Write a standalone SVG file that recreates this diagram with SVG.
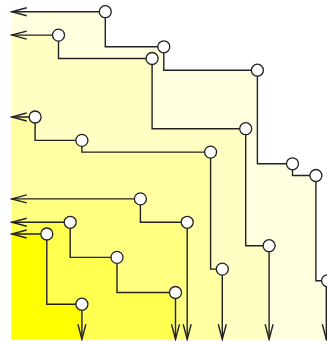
<svg xmlns="http://www.w3.org/2000/svg" width="327" height="344" viewBox="0 0 327 344">
<style>
.edge{fill:none;stroke:#222;stroke-width:1.4;marker-start:url(#arr);marker-end:url(#arr)}
.node{fill:#fff;stroke:#222;stroke-width:1.3}
.r1{fill:#ffffe0}.r2{fill:#ffffc4}.r3{fill:#ffffa2}.r4{fill:#ffff80}.r5{fill:#ffff50}.r6{fill:#ffff00}
</style>
<defs>
<marker id="arr" markerUnits="userSpaceOnUse" viewBox="-17 -6 19 12" markerWidth="19" markerHeight="12" refX="0" refY="0" orient="auto-start-reverse">
<path d="M-15,-4 L0,0 L-15,4" fill="none" stroke="#222" stroke-width="1.4"/>
</marker>
</defs>
<rect width="327" height="344" fill="#fff"/>
<g id="regions">
<path class="r1" d="M11.7,11.7 H105.3 V46.8 H163.8 V70.2 H257.4 V163.8 H292.5 V175.5 H315.9 V280.8 H327.6 V339.3 H11.7 Z"/>
<path class="r2" d="M11.7,35.1 H58.5 V58.5 H152.1 V128.7 H245.7 V245.7 H269.1 V339.3 H11.7 Z"/>
<path class="r3" d="M11.7,117 H35.1 V140.4 H81.9 V152.1 H210.6 V269.1 H222.3 V339.3 H11.7 Z"/>
<path class="r4" d="M11.7,198.9 H140.4 V222.3 H187.2 V339.3 H11.7 Z"/>
<path class="r5" d="M11.7,222.3 H70.2 V257.4 H117 V292.5 H175.5 V339.3 H11.7 Z"/>
<path class="r6" d="M11.7,234 H46.8 V304.2 H81.9 V339.3 H11.7 Z"/>
</g>
<g id="connectors">
<path id="pathA" class="edge" d="M11.7,11.7 H105.3 V46.8 H163.8 V70.2 H257.4 V163.8 H292.5 V175.5 H315.9 V280.8 H326.3 V339.3"/>
<path id="pathB" class="edge" d="M11.7,35.1 H58.5 V58.5 H152.1 V128.7 H245.7 V245.7 H269.1 V339.3"/>
<path id="pathC" class="edge" d="M11.7,117 H35.1 V140.4 H81.9 V152.1 H210.6 V269.1 H222.3 V339.3"/>
<path id="pathD" class="edge" d="M11.7,198.9 H140.4 V222.3 H187.2 V339.3"/>
<path id="pathE" class="edge" d="M11.7,222.3 H70.2 V257.4 H117 V292.5 H175.5 V339.3"/>
<path id="pathF" class="edge" d="M11.7,234 H46.8 V304.2 H81.9 V339.3"/>
</g>
<g id="nA1"><circle class="node" cx="105.3" cy="11.7" r="6"/></g>
<g id="nA2"><circle class="node" cx="163.8" cy="46.8" r="6"/></g>
<g id="nA3"><circle class="node" cx="257.4" cy="70.2" r="6"/></g>
<g id="nA4"><circle class="node" cx="292.5" cy="163.8" r="6"/></g>
<g id="nA5"><circle class="node" cx="315.9" cy="175.5" r="6"/></g>
<g id="nA6"><circle class="node" cx="327.6" cy="280.8" r="6"/></g>
<g id="nB1"><circle class="node" cx="58.5" cy="35.1" r="6"/></g>
<g id="nB2"><circle class="node" cx="152.1" cy="58.5" r="6"/></g>
<g id="nB3"><circle class="node" cx="245.7" cy="128.7" r="6"/></g>
<g id="nB4"><circle class="node" cx="269.1" cy="245.7" r="6"/></g>
<g id="nC1"><circle class="node" cx="35.1" cy="117" r="6"/></g>
<g id="nC2"><circle class="node" cx="81.9" cy="140.4" r="6"/></g>
<g id="nC3"><circle class="node" cx="210.6" cy="152.1" r="6"/></g>
<g id="nC4"><circle class="node" cx="222.3" cy="269.1" r="6"/></g>
<g id="nD1"><circle class="node" cx="140.4" cy="198.9" r="6"/></g>
<g id="nD2"><circle class="node" cx="187.2" cy="222.3" r="6"/></g>
<g id="nE1"><circle class="node" cx="70.2" cy="222.3" r="6"/></g>
<g id="nE2"><circle class="node" cx="117" cy="257.4" r="6"/></g>
<g id="nE3"><circle class="node" cx="175.5" cy="292.5" r="6"/></g>
<g id="nF1"><circle class="node" cx="46.8" cy="234" r="6"/></g>
<g id="nF2"><circle class="node" cx="81.9" cy="304.2" r="6"/></g>
</svg>
